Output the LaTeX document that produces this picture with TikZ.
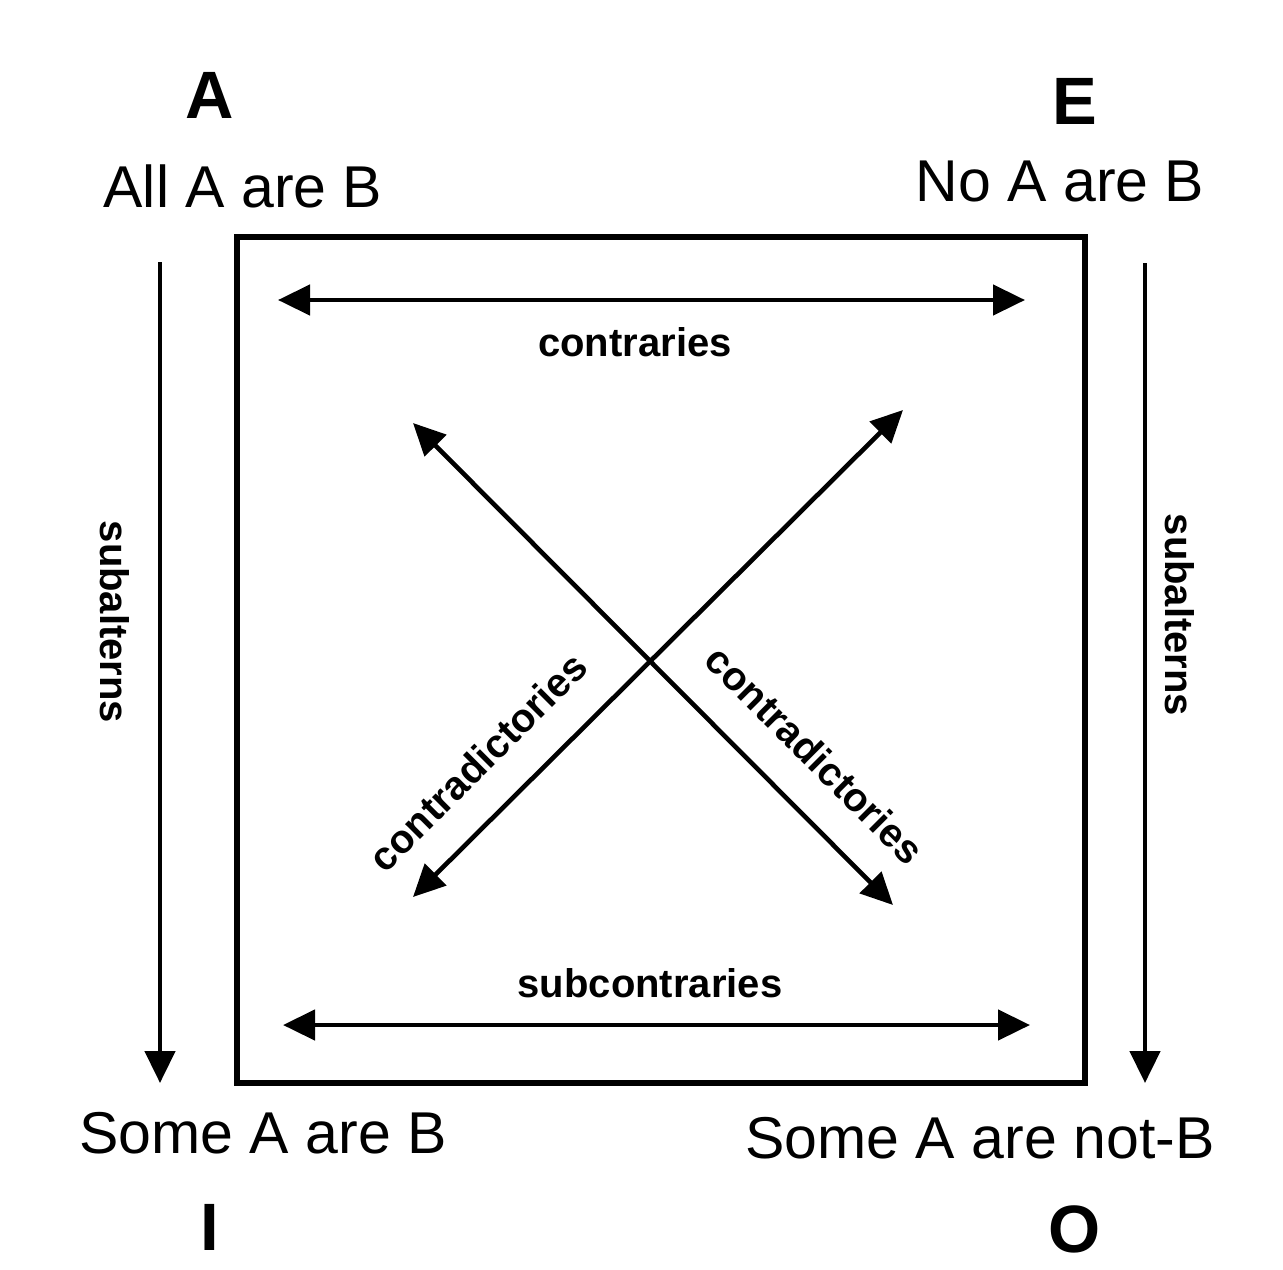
\documentclass[tikz,border=0pt]{standalone}
\usepackage{fontspec}
\setmainfont{Liberation Sans}
\usetikzlibrary{arrows.meta}
\tikzset{
  bigletter/.style={font=\fontsize{33.5}{40}\selectfont\bfseries, anchor=base, inner sep=0pt},
  prop/.style={font=\fontsize{29.5}{35}\selectfont, anchor=base, inner sep=0pt},
  lab/.style={font=\fontsize{20}{24}\selectfont\bfseries, inner sep=0pt},
  conn/.style={line width=2.3pt, {Triangle[length=16pt,width=15pt]}-{Triangle[length=16pt,width=15pt]}},
  oneway/.style={line width=2.3pt, -{Triangle[length=16pt,width=15pt]}},
  frame/.style={line width=3.2pt}
}
\begin{document}
\begin{tikzpicture}[x=0.5pt,y=-0.5pt]
\fill[white] (0,0) rectangle (1283,1269);
\useasboundingbox (0,0) rectangle (1283,1269);

% square
\draw[frame] (237,237) rectangle (1085,1083);

% corner labels
\node[bigletter] (lA) at (210,118) {A};
\node[prop] (pA) at (243,207) {All A are B};
\node[bigletter] (lE) at (1075,124) {E};
\node[prop] (pE) at (1060,201) {No A are B};
\node[prop] (pI) at (263,1153) {Some A are B};
\node[bigletter] (lI) at (210,1250) {I};
\node[prop] (pO) at (980,1158) {Some A are not-B};
\node[bigletter] (lO) at (1075,1252) {O};

% arrow endpoints
\coordinate (c1) at (278,300);
\coordinate (c2) at (1025,300);
\coordinate (s1) at (283,1025);
\coordinate (s2) at (1030,1025);
\coordinate (l1) at (160,262);
\coordinate (l2) at (160,1083);
\coordinate (r1) at (1145,263);
\coordinate (r2) at (1145,1083);
\coordinate (d1a) at (413,423);
\coordinate (d1b) at (893,905);
\coordinate (d2a) at (413,897);
\coordinate (d2b) at (903,410);

% arrows
\draw[conn] (c1) -- (c2);
\draw[conn] (s1) -- (s2);
\draw[oneway] (l1) -- (l2);
\draw[oneway] (r1) -- (r2);
\draw[conn] (d1a) -- (d1b);
\draw[conn] (d2a) -- (d2b);

% relation labels
\node[lab, anchor=base] (tc) at (635,356) {contraries};
\node[lab, anchor=base] (ts) at (650,997) {subcontraries};
\node[lab, rotate=-90] (tl) at (115,622) {subalterns};
\node[lab, rotate=-90] (tr) at (1180,615) {subalterns};
\node[lab, rotate=45] (tdl) at (478,762) {contradictories};
\node[lab, rotate=-45] (tdr) at (815,755) {contradictories};
\end{tikzpicture}
\end{document}
